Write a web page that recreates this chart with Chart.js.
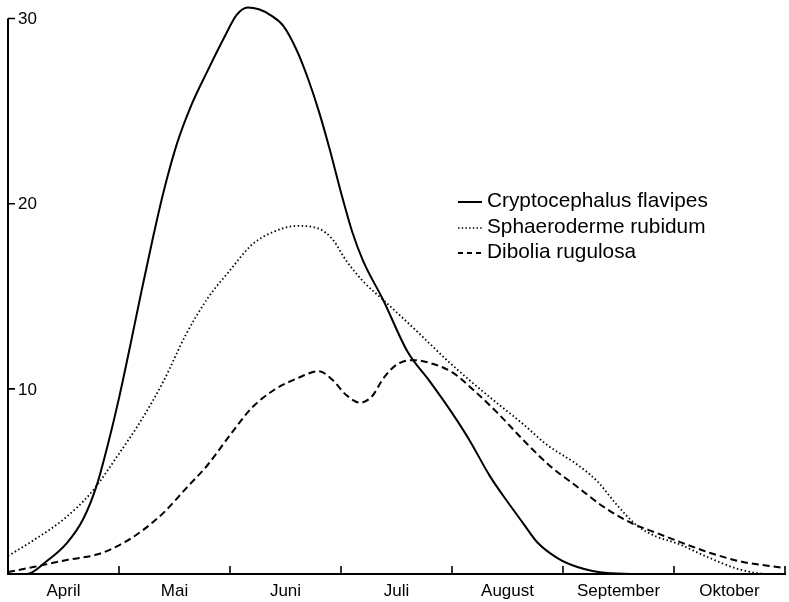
<!DOCTYPE html>
<html><head><meta charset="utf-8">
<script src="https://cdn.jsdelivr.net/npm/chart.js@4.4.0/dist/chart.umd.min.js"></script>
<style>html,body{margin:0;padding:0;background:#fff}#wrap{width:789px;height:602px;position:relative}</style>
</head><body><div id="wrap"><canvas id="c" width="789" height="602"></canvas></div>
<script>
const monthLabels = ['April','Mai','Juni','Juli','August','September','Oktober'];
const monthTicks = [0,1,2,3,4,5,6,7];
const yTicks = [10,20,30];
const seriesNames = ['Cryptocephalus flavipes','Sphaeroderme rubidum','Dibolia rugulosa'];

// Cryptocephalus flavipes (solid)
const cfX = [0,0.17,0.35,0.53,0.68,0.80,0.90,1.0,1.1,1.2,1.3,1.4,1.52,1.65,1.8,1.95,2.06,2.16,2.26,2.36,2.48,2.6,2.7,2.8,2.9,3.0,3.1,3.2,3.38,3.6,3.8,4.0,4.16,4.34,4.5,4.64,4.77,4.95,5.13,5.4,5.7];
const cfY = [0,0,0.7,1.67,3.0,4.8,7.0,9.5,12.3,15.2,18.0,20.6,23.2,25.3,27.2,29.0,30.2,30.6,30.5,30.2,29.6,28.3,26.8,25.0,22.9,20.6,18.5,16.9,14.8,12.0,10.4,8.7,7.2,5.3,3.9,2.75,1.7,0.86,0.38,0.05,0];

// Sphaeroderme rubidum (dotted)
const srX = [0,0.25,0.5,0.75,1.0,1.2,1.4,1.6,1.8,2.0,2.2,2.4,2.6,2.8,2.92,3.05,3.2,3.4,3.65,4.0,4.34,4.64,4.85,5.13,5.31,5.49,5.67,5.85,6.03,6.3,6.59,6.86,7];
const srY = [0.97,1.9,2.95,4.4,6.5,8.3,10.4,12.9,14.9,16.4,17.8,18.5,18.8,18.65,18.1,16.9,15.8,14.7,13.3,11.3,9.55,8.1,7.0,5.9,5.0,3.7,2.6,2.0,1.65,0.92,0.25,0,0];

// Dibolia rugulosa (dashed)
const drX = [0,0.25,0.53,0.8,1.0,1.2,1.4,1.6,1.8,2.0,2.2,2.4,2.6,2.8,2.92,3.05,3.17,3.28,3.38,3.5,3.65,3.8,4.0,4.2,4.41,4.64,4.88,5.13,5.36,5.6,5.85,6.08,6.32,6.62,6.93,7];
const drY = [0.11,0.4,0.76,1.05,1.55,2.3,3.3,4.6,5.9,7.5,9.0,9.95,10.55,10.95,10.5,9.65,9.25,9.6,10.55,11.3,11.55,11.4,10.9,9.9,8.7,7.25,5.85,4.7,3.65,2.8,2.2,1.67,1.15,0.65,0.38,0.32];

const pts = (xs, ys) => xs.map((x, i) => ({x, y: ys[i]}));
const FONT = '"Liberation Sans", Arial, sans-serif';

const axesPlugin = {
  id: 'axesPlugin',
  afterDatasetsDraw(chart) {
    const ctx = chart.ctx;
    const xs = chart.scales.x, ys = chart.scales.y;
    const x0 = xs.getPixelForValue(0), x7 = xs.getPixelForValue(7);
    const y0 = ys.getPixelForValue(0), yTop = ys.getPixelForValue(yTicks[yTicks.length - 1]);
    ctx.save();
    ctx.strokeStyle = '#000';
    ctx.lineWidth = 2;
    ctx.beginPath();
    ctx.moveTo(x0, yTop); ctx.lineTo(x0, y0 + 1);
    ctx.moveTo(x0 - 1, y0); ctx.lineTo(x7 + 1, y0);
    ctx.stroke();
    ctx.lineWidth = 1.6;
    ctx.beginPath();
    yTicks.forEach(v => { const p = ys.getPixelForValue(v); ctx.moveTo(x0, p); ctx.lineTo(x0 + 7, p); });
    monthTicks.slice(1).forEach(m => { const p = xs.getPixelForValue(m); ctx.moveTo(p, y0); ctx.lineTo(p, y0 - 8); });
    ctx.stroke();
    ctx.fillStyle = '#000';
    ctx.font = '17px ' + FONT;
    ctx.textBaseline = 'middle';
    ctx.textAlign = 'left';
    yTicks.forEach(v => ctx.fillText(String(v), x0 + 10, ys.getPixelForValue(v) + 1));
    ctx.textAlign = 'center';
    ctx.textBaseline = 'alphabetic';
    monthLabels.forEach((t, i) => ctx.fillText(t, xs.getPixelForValue(i + 0.5), 596));
    // legend
    const lx = 458, tx = 487, rows = [201, 227, 252];
    const dashes = [[], [1.5, 2.2], [5, 4]];
    ctx.textAlign = 'left';
    ctx.textBaseline = 'middle';
    ctx.font = '20.8px ' + FONT;
    rows.forEach((ry, i) => {
      ctx.beginPath();
      ctx.setLineDash(dashes[i]);
      ctx.lineWidth = i === 1 ? 1.6 : 2;
      ctx.moveTo(lx, ry + 1); ctx.lineTo(lx + 24, ry + 1);
      ctx.stroke();
      ctx.setLineDash([]);
      ctx.fillText(seriesNames[i], tx, ry);
    });
    ctx.restore();
  }
};

new Chart(document.getElementById('c'), {
  type: 'line',
  data: {
    datasets: [
      {label: seriesNames[0], data: pts(cfX, cfY), borderColor: '#000', borderWidth: 2, borderDash: []},
      {label: seriesNames[1], data: pts(srX, srY), borderColor: '#000', borderWidth: 1.8, borderDash: [1.5, 2.5]},
      {label: seriesNames[2], data: pts(drX, drY), borderColor: '#000', borderWidth: 2, borderDash: [7, 4]}
    ]
  },
  options: {
    responsive: false,
    animation: false,
    devicePixelRatio: 1,
    elements: {point: {radius: 0}, line: {cubicInterpolationMode: 'monotone', fill: false}},
    layout: {padding: {left: 8, right: 4, top: 0, bottom: 28}},
    scales: {
      x: {type: 'linear', min: 0, max: 7, display: false},
      y: {type: 'linear', min: 0, max: 31, display: false}
    },
    plugins: {legend: {display: false}, tooltip: {enabled: false}},
    clip: false
  },
  plugins: [axesPlugin]
});
</script>
</body></html>
